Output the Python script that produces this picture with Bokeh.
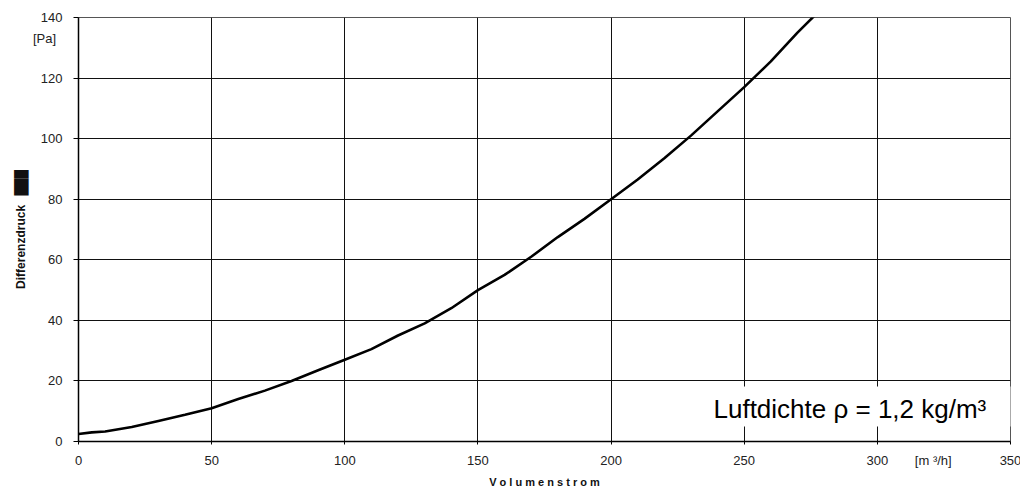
from bokeh.plotting import figure
from bokeh.models import Label, Range1d, FixedTicker, LinearAxis, BoxAnnotation, Grid
from bokeh.embed import file_html
from bokeh.resources import INLINE

# data
flow = [0, 5, 10, 20, 30, 40, 50, 60, 70, 80, 90, 100, 110, 120, 130, 140, 150,
        160, 170, 180, 190, 200, 210, 220, 230, 240, 250, 260, 270, 278]
dp = [2.5, 3.0, 3.3, 4.8, 6.8, 8.8, 11.0, 14.0, 16.8, 20.0, 23.5, 27.0, 30.5,
      35.0, 39.0, 44.0, 50.0, 55.0, 61.0, 67.5, 73.5, 80.0, 86.5, 93.5, 101.0,
      109.0, 117.0, 125.5, 135.0, 142.0]
x_ticks = [0, 50, 100, 150, 200, 250, 300, 350]
y_ticks = [0, 20, 40, 60, 80, 100, 120, 140]
x_unit_pos, x_unit_text = 321, "[m \u00b3/h]"
y_unit_pos, y_unit_text = 133, "[Pa]\u2002"
x_title = "V o l u m e n s t r o m"
y_title = "Differenzdruck \u2002\u2588\u2588\u2588"
note = "Luftdichte \u03c1 = 1,2 kg/m\u00b3"

FONT = "Liberation Sans"

p = figure(width=1020, height=492, frame_width=932, frame_height=424,
           min_border_left=78, min_border_top=17, min_border_right=10,
           min_border_bottom=51,
           x_range=Range1d(0, 350), y_range=Range1d(0, 140),
           x_axis_type=None, y_axis_type=None,
           output_backend="svg", toolbar_location=None)

p.outline_line_color = "#555555"
p.outline_line_width = 1


def tick_axis(ticks, tick_out):
    ax = LinearAxis(ticker=FixedTicker(ticks=ticks))
    ax.axis_line_color = "black"
    ax.axis_line_width = 1.5
    ax.major_tick_line_color = "black"
    ax.major_tick_line_width = 1
    ax.minor_tick_line_color = None
    ax.major_tick_in = 0
    ax.major_tick_out = tick_out
    ax.major_label_text_font_size = "0px"
    ax.major_label_standoff = 0
    ax.major_label_overrides = {t: "" for t in ticks}
    return ax


def label_axis(ticks, overrides, standoff, title, title_size, title_standoff):
    ax = LinearAxis(ticker=FixedTicker(ticks=ticks))
    ax.axis_line_color = None
    ax.major_tick_line_color = None
    ax.minor_tick_line_color = None
    ax.major_tick_in = 0
    ax.major_tick_out = 0
    ax.major_label_text_font = FONT
    ax.major_label_text_font_size = "13px"
    ax.major_label_text_color = "#222222"
    ax.major_label_standoff = standoff
    ax.major_label_overrides = overrides
    ax.axis_label = title
    ax.axis_label_text_font = FONT
    ax.axis_label_text_font_size = title_size
    ax.axis_label_text_font_style = "bold"
    ax.axis_label_text_color = "#111111"
    ax.axis_label_standoff = title_standoff
    return ax


p.add_layout(tick_axis(x_ticks, 3), "below")
p.add_layout(tick_axis(y_ticks, 5), "left")

xb = label_axis(x_ticks + [x_unit_pos], {x_unit_pos: x_unit_text}, 8,
                x_title, "11px", 5)
yb = label_axis(y_ticks + [y_unit_pos], {y_unit_pos: y_unit_text}, 11,
                y_title, "12px", 2)
p.add_layout(xb, "below")
p.add_layout(yb, "left")

for dim, ticks in ((0, x_ticks), (1, y_ticks)):
    g = Grid(dimension=dim, ticker=FixedTicker(ticks=ticks))
    g.grid_line_color = "#111111"
    g.grid_line_width = 1
    p.add_layout(g)

p.line(flow, dp, line_color="black", line_width=2.6)

# white box behind the note (screen units relative to the frame)
p.add_layout(BoxAnnotation(left=622, right=940, bottom=15, top=55,
                           left_units="screen", right_units="screen",
                           bottom_units="screen", top_units="screen",
                           fill_color="white", fill_alpha=1.0,
                           line_color=None))
p.add_layout(Label(x=635, y=33, x_units="screen", y_units="screen",
                   text=note, text_font=FONT, text_font_size="26px",
                   text_color="black", text_align="left",
                   text_baseline="alphabetic"))

open("out.html", "w").write(file_html(p, INLINE))
